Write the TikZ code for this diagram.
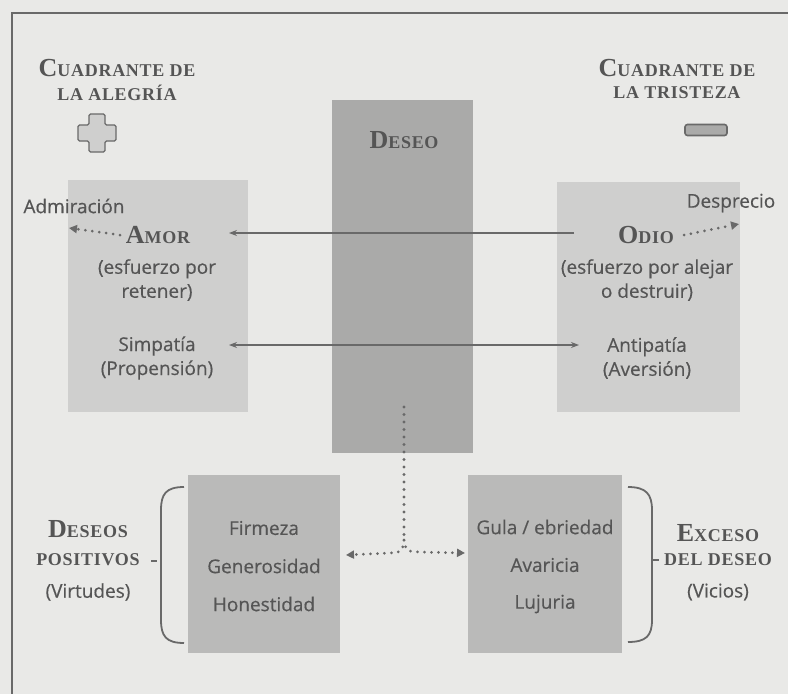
\documentclass[tikz,border=0pt]{standalone}
\usepackage{fontspec}
\setmainfont{Liberation Serif}
\newfontfamily\sansf[FakeBold=0.4]{Open Sans}
\usetikzlibrary{arrows.meta}
\definecolor{bgc}{RGB}{233,233,231}
\definecolor{lightbox}{RGB}{207,207,206}
\definecolor{midbox}{RGB}{186,186,185}
\definecolor{darkbox}{RGB}{170,170,169}
\definecolor{txt}{RGB}{85,85,85}
\definecolor{linec}{RGB}{105,105,105}
\newcommand{\scap}[2]{{\fontsize{26}{26}\selectfont #1}{\fontsize{18}{18}\selectfont\addfontfeature{LetterSpace=4}#2}}
\newcommand{\scsm}[1]{{\fontsize{18}{18}\selectfont\addfontfeature{LetterSpace=4}#1}}
\begin{document}
\begin{tikzpicture}[x=1pt,y=-1pt,
  box/.style={draw=none,inner sep=0pt,minimum width=#1},
  head/.style={text=txt,align=center,inner sep=0pt,font=\bfseries},
  stxt/.style={text=txt,align=center,inner sep=0pt,font=\sansf\fontsize{19}{24}\selectfont},
  solidarr/.style={draw=linec,line width=1.1pt,-{Stealth[length=8pt,width=6pt]}},
  dotarr/.style={draw=linec,line width=3pt,line cap=round,dash pattern=on 0pt off 7pt,-{Triangle[length=8pt,width=8pt]}},
  dotline/.style={draw=linec,line width=3.2pt,line cap=round,dash pattern=on 0pt off 7.5pt},
  brace/.style={draw=linec,line width=1.8pt}]
\useasboundingbox (0,0) rectangle (788,694);
\fill[bgc] (0,0) rectangle (788,694);
% frame
\coordinate (fa) at (12,694);
\coordinate (fb) at (12,13);
\coordinate (fc) at (788,13);
\draw[linec,line width=1.6pt] (fa) -- (fb) -- (fc);
% boxes
\node[box=180pt,fill=lightbox,minimum height=232pt] (amor) at (158,296) {};
\node[box=141pt,fill=darkbox,minimum height=353pt] (deseo) at (402.5,276.5) {};
\node[box=183pt,fill=lightbox,minimum height=230pt] (odio) at (648.5,297) {};
\node[box=152pt,fill=midbox,minimum height=178pt] (virt) at (264,564) {};
\node[box=154pt,fill=midbox,minimum height=178pt] (vic) at (545,564) {};
% headings
\node[head] (hal1) at (117,68) {\scap{C}{UADRANTE DE}};
\node[head] (hal2) at (117,93) {\scsm{LA ALEGRÍA}};
\node[head] (htr1) at (677,68) {\scap{C}{UADRANTE DE}};
\node[head] (htr2) at (677,93) {\scsm{LA TRISTEZA}};
\node[head] (tdeseo) at (404,140) {\scap{D}{ESEO}};
% plus and minus
\draw[fill=lightbox,draw=linec,line width=1.4pt,rounded corners=1.5pt]
  (89,114) -- (105,114) -- (105,125) -- (116,125) -- (116,141) -- (105,141) -- (105,152) -- (89,152) -- (89,141) -- (78,141) -- (78,125) -- (89,125) -- cycle;
\node[draw=linec,fill=darkbox,line width=1.6pt,rounded corners=2.5pt,minimum width=42pt,minimum height=11pt,inner sep=0pt] (minus) at (706,130) {};
% amor texts
\node[stxt] (admir) at (74,206) {Admiración};
\node[head] (tamor) at (158,235) {\scap{A}{MOR}};
\node[stxt] (amor2) at (157,280) {(esfuerzo por\\retener)};
\node[stxt] (simp) at (157,358) {Simpatía\\(Propensión)};
% odio texts
\node[stxt] (despr) at (731,203) {Desprecio};
\node[head] (todio) at (646,235) {\scap{O}{DIO}};
\node[stxt] (odio2) at (647,280) {(esfuerzo por alejar\\o destruir)};
\node[stxt] (anti) at (647,358) {Antipatía\\(Aversión)};
% bottom texts
\node[stxt] (firm) at (264,528) {Firmeza};
\node[stxt] (gene) at (264,566) {Generosidad};
\node[stxt] (hone) at (264,604) {Honestidad};
\node[stxt] (gula) at (545,527) {Gula / ebriedad};
\node[stxt] (avar) at (545,565) {Avaricia};
\node[stxt] (luju) at (545,604) {Lujuria};
\node[head] (dp1) at (88,529) {\scap{D}{ESEOS}};
\node[head] (dp2) at (88,560) {\scsm{POSITIVOS}};
\node[stxt] (dp3) at (88,592) {(Virtudes)};
\node[head] (ex1) at (718,533) {\scap{E}{XCESO}};
\node[head] (ex2) at (718,560) {\scsm{DEL DESEO}};
\node[stxt] (ex3) at (718,592) {(Vicios)};
% solid arrows
\coordinate (r1a) at (574,233);
\coordinate (r1b) at (229,233);
\draw[solidarr] (r1a) -- (r1b);
\coordinate (r2a) at (229,345);
\coordinate (r2b) at (579,345);
\draw[solidarr,{Stealth[length=8pt,width=6pt]}-{Stealth[length=8pt,width=6pt]}] (r2a) -- (r2b);
% dotted arrows from amor / odio
\coordinate (da1) at (120,235);
\coordinate (da2) at (69,228);
\draw[dotarr] (da1) -- (da2);
\coordinate (do1) at (684,235);
\coordinate (do2) at (739,224);
\draw[dotarr] (do1) -- (do2);
% central dotted structure
\coordinate (v1) at (404,407);
\coordinate (v2) at (404,540);
\coordinate (vl) at (346,555);
\coordinate (vr) at (465,553);
\draw[dotline] (v1) -- (v2);
\draw[dotarr] (v2) .. controls (402,552) .. (390,553) -- (vl);
\draw[dotarr] (v2) .. controls (406,551) .. (418,552) -- (vr);
% braces
\draw[brace] (184,487) .. controls (166,487) and (161,494) .. (161,510) -- (161,620) .. controls (161,636) and (166,643) .. (184,643);
\coordinate (tl1) at (151,561);
\coordinate (tl2) at (157,561);
\draw[brace] (tl1) -- (tl2);
\draw[brace] (628,487) .. controls (646,487) and (652,494) .. (652,510) -- (652,620) .. controls (652,636) and (646,642) .. (628,642);
\coordinate (tr1) at (653,560);
\coordinate (tr2) at (659,560);
\draw[brace] (tr1) -- (tr2);
\end{tikzpicture}
\end{document}
